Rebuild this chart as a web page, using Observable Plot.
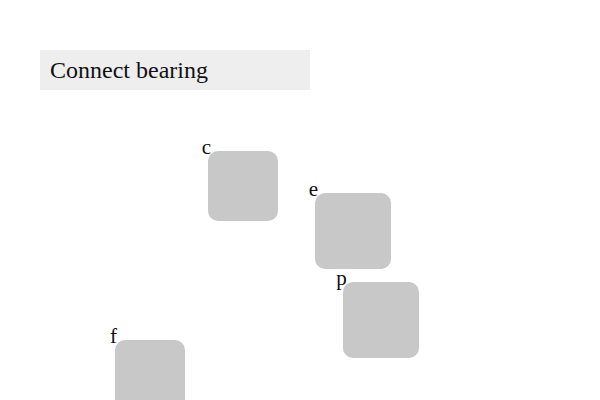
<!DOCTYPE html>
<html>
<head>
<meta charset="utf-8">
<script src="https://cdn.jsdelivr.net/npm/d3@7"></script>
<script src="https://cdn.jsdelivr.net/npm/@observablehq/plot@0.6"></script>
<style>
  body { margin: 0; background: #fff; font-family: "DejaVu Serif", serif; }
  #title {
    margin: 50px 0 0 40px; width: 260px; height: 40px; padding-left: 10px;
    background: #eeeeee; font-size: 24px; line-height: 40px; color: #111;
    font-family: "Liberation Serif", "DejaVu Serif", serif;
  }
</style>
</head>
<body>
<div id="title">Connect bearing</div>
<div id="chart"></div>
<script>
// nodes: label, left edge, top edge, size (in chart units)
const names = ["c", "e", "p", "f"];
const lefts = [208, 315, 343, 115];
const tops = [61, 103, 192, 250];
const sizes = [70, 76, 76, 70];

const nodes = names.map((n, i) => ({
  name: n, x1: lefts[i], x2: lefts[i] + sizes[i], y1: tops[i], y2: tops[i] + sizes[i]
}));

const plot = Plot.plot({
  width: 600,
  height: 330,
  margin: 0,
  x: { domain: [0, 600], range: [0, 600], axis: null },
  y: { domain: [0, 330], range: [0, 330], axis: null },
  marks: [
    Plot.rect(nodes, { x1: "x1", x2: "x2", y1: "y1", y2: "y2", fill: "#c8c8c8", rx: 10 }),
    Plot.text(nodes, {
      x: "x1", y: "y1", text: "name", dx: -2, dy: 2, textAnchor: "middle", lineAnchor: "bottom",
      fontSize: 21, fill: "#111", fontFamily: "Liberation Serif, DejaVu Serif, serif"
    })
  ]
});
document.getElementById("chart").appendChild(plot);
</script>
</body>
</html>
